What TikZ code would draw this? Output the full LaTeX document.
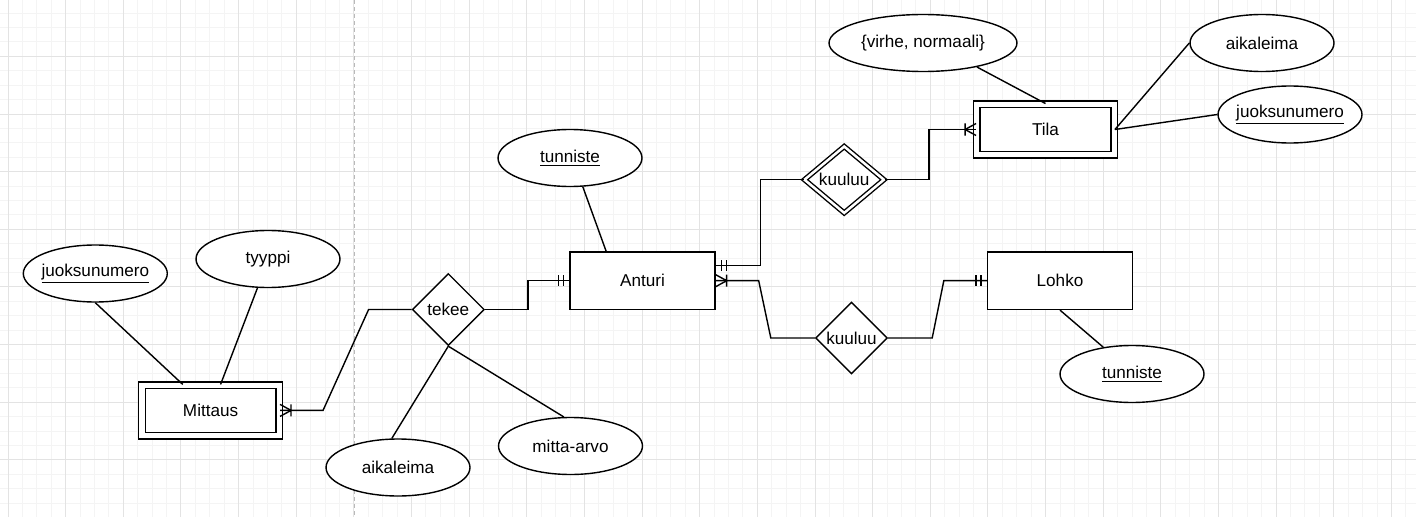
\documentclass[tikz,border=0pt]{standalone}
\usepackage{fontspec}
\setmainfont{Liberation Sans}
\usetikzlibrary{shapes.geometric,decorations.markings,calc}
\tikzstyle{every node}=[font=\fontsize{9.75}{11.7}\selectfont, inner sep=0pt]
\tikzstyle{entity}=[rectangle, draw, fill=white, minimum width=2.9cm, minimum height=1.15cm]
\tikzstyle{weak}=[rectangle, draw, double, double distance=0.106cm, fill=white, minimum width=2.75cm, minimum height=1.01cm]
\tikzstyle{rel}=[diamond, draw, fill=white, minimum width=1.44cm, minimum height=1.44cm]
\tikzstyle{weakrel}=[diamond, draw, double, double distance=0.05cm, fill=white, minimum width=1.6cm, minimum height=1.34cm]
\tikzstyle{attr}=[ellipse, draw, fill=white, minimum width=2.88cm, minimum height=1.14cm, inner xsep=-6pt]
\tikzstyle{gridminor}=[gray!9, line width=0.5pt]
\tikzstyle{gridmajor}=[gray!22, line width=0.5pt]
\tikzset{one end/.style={decoration={
      markings,
      mark=at position 1 with {\draw (-6,-5.5) -- (-6,5.5) (-11,-5.5) -- (-11,5.5);}},postaction={decorate}}}
\tikzset{many end/.style={decoration={
      markings,
      mark=at position 1 with {\draw (0,-6) -- (-11,0) -- (0,6) (-11,-6) -- (-11,6);}},postaction={decorate}}}

\begin{document}
\begin{tikzpicture}[x=0.02cm, y=-0.02cm, line width=0.8pt]
    \useasboundingbox (0,0) rectangle (1416,517);
    % ruudukko
    \foreach \i in {0,...,97} \draw[gridminor] ({8+14.41*\i},0) -- ({8+14.41*\i},517);
    \foreach \i in {0,...,34} \draw[gridminor] (0,{13.1+14.41*\i}) -- (1416,{13.1+14.41*\i});
    \foreach \i in {0,...,24} \draw[gridmajor] ({8+57.64*\i},0) -- ({8+57.64*\i},517);
    \foreach \i in {0,...,7} \draw[gridmajor] (0,{56.3+57.64*\i}) -- (1416,{56.3+57.64*\i});
    \draw[gray!55, line width=0.5pt, dash pattern=on 0.08cm off 0.06cm] (354,0) -- (354,517);

    % entiteetit ja suhteet
    \node[weak] (mittaus) at (210.6,410.4) {Mittaus};
    \node[entity] (anturi) at (642.5,280.7) {Anturi};
    \node[entity] (lohko) at (1060,280.7) {Lohko};
    \node[weak] (tila) at (1045.5,129.5) {Tila};
    \node[rel] (tekee) at (448.3,309.5) {tekee};
    \node[weakrel] (kuuluu1) at (844.2,179.7) {kuuluu};
    \node[rel] (kuuluu2) at (851.5,338) {kuuluu};

    % attribuutit
    \node[attr] (mjuoks) at (95.3,273.5) {\underline{juoksunumero}};
    \node[attr] (tyyppi) at (268,259) {tyyppi};
    \node[attr] (aika1) at (398,467.5) {aikaleima};
    \node[attr] (mitta) at (570.5,446) {mitta-arvo};
    \node[attr] (atunn) at (570,158) {\underline{tunniste}};
    \node[attr] (ltunn) at (1132,374) {\underline{tunniste}};
    \node[attr, minimum width=3.76cm] (virhe) at (923,43) {\{virhe, normaali\}};
    \node[attr] (aika2) at (1262,43) {aikaleima};
    \node[attr] (tjuoks) at (1290,114.5) {\underline{juoksunumero}};

    \draw (mjuoks.south) -- (mittaus.137);
    \draw (tyyppi.250) -- (mittaus.69);
    \draw[many end] (tekee.west) -- ++(-43,0) -- ($(mittaus.east)+(43,0)$) -- (mittaus.east);
    \draw[one end] (tekee.east) -- ++(43,0) |- (anturi.west);
    \draw (tekee.south) -- (aika1.102);
    \draw (tekee.south) -- (mitta.103);
    \draw (atunn.294) -- (anturi.141);
    \draw[one end] (kuuluu1.west) -- ++(-43,0) |- ($(anturi.east)+(0,-15)$);
    \draw[many end] (kuuluu2.west) -- ++(-44,0) -- ($(anturi.east)+(43,0)$) -- (anturi.east);
    \draw[many end] (kuuluu1.east) -- ++(44,0) |- (tila.west);
    \draw[one end] (kuuluu2.east) -- ++(44,0) -- ($(lohko.west)+(-43,0)$) -- (lohko.west);
    \draw (lohko.south) -- (ltunn.137);
    \draw (virhe.336) -- (tila.north);
    \draw (aika2.west) -- (tila.east);
    \draw (tjuoks.west) -- (tila.east);
\end{tikzpicture}
\end{document}
